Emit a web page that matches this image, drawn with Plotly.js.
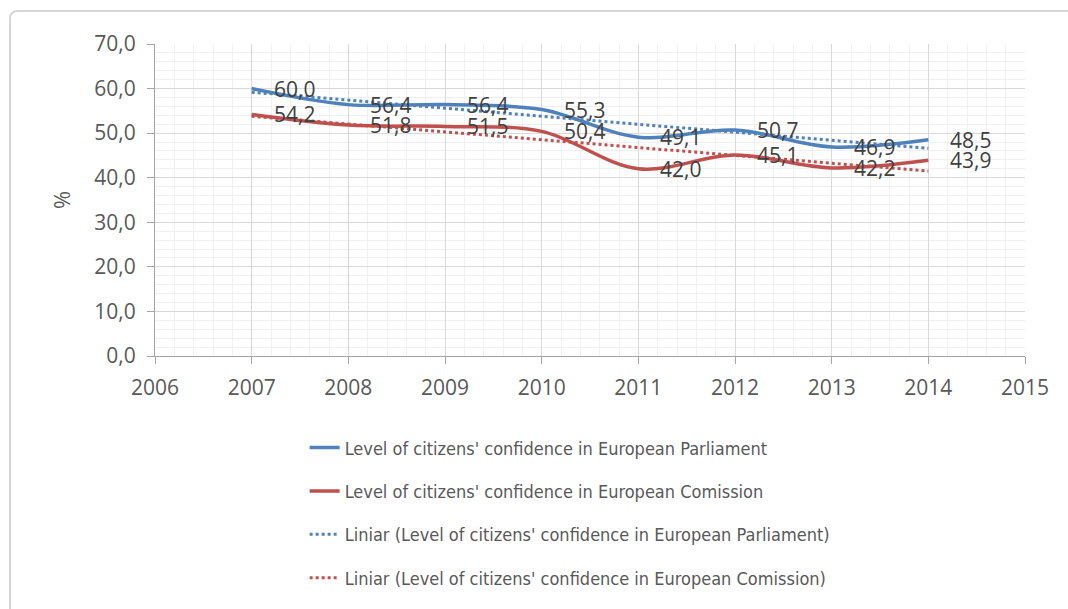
<!DOCTYPE html>
<html>
<head>
<meta charset="utf-8">
<script src="https://cdn.plot.ly/plotly-3.0.1.min.js"></script>
<style>
  html, body { margin: 0; padding: 0; background: #ffffff; }
  #wrap { position: relative; width: 1068px; height: 609px; overflow: hidden; }
  #chart { position: absolute; left: 0; top: 0; width: 1068px; height: 609px; }
  #frame { position: absolute; left: 9px; top: 10px; width: 1100px; height: 640px;
           border: 2px solid #d6d6d6; border-radius: 8px; pointer-events: none; }
</style>
</head>
<body>
<div id="wrap">
  <div id="chart"></div>
  <div id="frame"></div>
</div>
<script>
// ---- data ----
const years = [2007, 2008, 2009, 2010, 2011, 2012, 2013, 2014];
const parliament = [60.0, 56.4, 56.4, 55.3, 49.1, 50.7, 46.9, 48.5];
const commission = [54.2, 51.8, 51.5, 50.4, 42.0, 45.1, 42.2, 43.9];
const trendYears = [2007, 2014];
const trendParliament = [59.2, 46.6];
const trendCommission = [53.8, 41.5];
const seriesNames = [
  "Level of citizens' confidence in European Parliament",
  "Level of citizens' confidence in European Comission",
  "Liniar (Level of citizens' confidence in European Parliament)",
  "Liniar (Level of citizens' confidence in European Comission)"
];
const yTitle = "%";

const blue = '#4F81BD', red = '#C0504D';
const tickFont = { family: 'Open Sans, Liberation Sans, sans-serif', size: 21, color: '#595959' };
const labelFont = { family: 'Open Sans, Liberation Sans, sans-serif', size: 21, color: '#404040' };

const traces = [
  { x: years, y: parliament, name: seriesNames[0], type: 'scatter', mode: 'lines',
    line: { color: blue, width: 3.5, shape: 'spline', smoothing: 1 }, legendgroup: 'a' },
  { x: years, y: commission, name: seriesNames[1], type: 'scatter', mode: 'lines',
    line: { color: red, width: 3.5, shape: 'spline', smoothing: 1 }, legendgroup: 'b' },
  { x: trendYears, y: trendParliament, name: seriesNames[2], type: 'scatter', mode: 'lines',
    line: { color: blue, width: 3, dash: 'dot' }, legendgroup: 'c' },
  { x: trendYears, y: trendCommission, name: seriesNames[3], type: 'scatter', mode: 'lines',
    line: { color: red, width: 3, dash: 'dot' }, legendgroup: 'd' }
];

const fmt = v => v.toFixed(1).replace('.', ',');
const annotations = [];
[parliament, commission].forEach(series => {
  series.forEach((v, i) => {
    annotations.push({ x: years[i], y: v, text: fmt(v), showarrow: false,
      xanchor: 'left', yanchor: 'middle', xshift: 20, font: labelFont });
  });
});

const layout = {
  width: 1068, height: 609,
  margin: { l: 155, r: 43, t: 44, b: 253, autoexpand: false },
  paper_bgcolor: 'rgba(0,0,0,0)', plot_bgcolor: '#ffffff',
  separators: ', ',
  showlegend: true,
  legend: {
    orientation: 'v', x: 0.172, y: 0.295, xref: 'paper', yref: 'container',
    xanchor: 'left', yanchor: 'top',
    font: { family: 'Liberation Sans Narrow, DejaVu Sans Condensed, sans-serif', size: 18, color: '#595959' },
    traceorder: 'grouped', tracegroupgap: 17, bgcolor: 'rgba(0,0,0,0)'
  },
  xaxis: {
    range: [2006, 2015], tick0: 2006, dtick: 1, tickformat: 'd',
    showgrid: true, gridcolor: '#d9d9d9', gridwidth: 1,
    minor: { dtick: 0.2, tick0: 2006, showgrid: true, gridcolor: '#f0f0f0', gridwidth: 1 },
    showline: true, linecolor: '#a6a6a6', linewidth: 1,
    ticks: 'outside', ticklen: 7, tickcolor: '#a6a6a6', ticklabelstandoff: 6,
    tickfont: tickFont, zeroline: false, fixedrange: true
  },
  yaxis: {
    range: [0, 70], tick0: 0, dtick: 10, tickformat: '.1f',
    showgrid: true, gridcolor: '#d9d9d9', gridwidth: 1,
    minor: { dtick: 2, tick0: 0, showgrid: true, gridcolor: '#f0f0f0', gridwidth: 1 },
    showline: true, linecolor: '#a6a6a6', linewidth: 1,
    ticks: 'outside', ticklen: 7, tickcolor: '#a6a6a6', ticklabelstandoff: 7,
    tickfont: tickFont, zeroline: false, fixedrange: true,
    title: { text: yTitle, font: { family: 'Open Sans, Liberation Sans, sans-serif', size: 22, color: '#595959' }, standoff: 17 }
  },
  annotations: annotations
};

Plotly.newPlot('chart', traces, layout, { displayModeBar: false, staticPlot: true });
</script>
</body>
</html>
